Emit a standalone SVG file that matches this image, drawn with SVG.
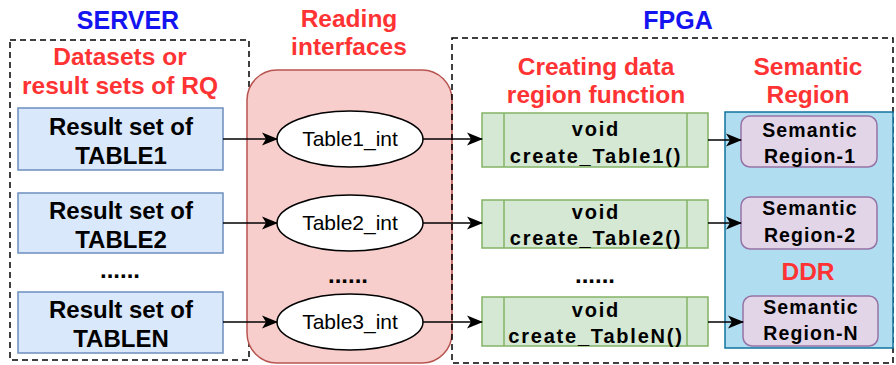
<svg xmlns="http://www.w3.org/2000/svg" width="896" height="365" viewBox="0 0 896 365">
<style>
text{font-family:"Liberation Sans",Arial,sans-serif;font-weight:bold;text-anchor:middle}
.title{font-size:25px;fill:#1414F0}
.red{font-size:24.5px;fill:#FF3333}
.res{font-size:24px;fill:#000}
.int{font-size:21px;font-weight:normal;fill:#000}
.fn{font-size:20px;fill:#000;letter-spacing:1.8px}
.sem{font-size:19.5px;fill:#000;letter-spacing:1.1px}
.dots{font-size:24px;fill:#000}
.dash{fill:none;stroke:#000;stroke-width:1.5;stroke-dasharray:6,4}
.rbox{fill:#DAE8FC;stroke:#6C8EBF;stroke-width:1.5}
.ell{fill:#fff;stroke:#000;stroke-width:1.5}
.gbox{fill:#D5E8D4;stroke:#82B366;stroke-width:1.5}
.pbox{fill:#E1D5E7;stroke:#9673A6;stroke-width:1.5}
.conn{stroke:#000;stroke-width:1.5;fill:none;marker-end:url(#arr)}
</style>
<defs>
<marker id="arr" markerUnits="userSpaceOnUse" markerWidth="18" markerHeight="14" refX="15" refY="7" orient="auto">
<path d="M0,0.5 L16,7 L0,13.5 L4,7 z" fill="#000"/>
</marker>
</defs>
<rect width="896" height="365" fill="#fff"/>

<g id="server">
<rect class="dash" x="10" y="40" width="239" height="320"/>
<text class="title" x="128" y="29">SERVER</text>
<text class="red" x="120" y="65">Datasets or</text>
<text class="red" x="120" y="94">result sets of RQ</text>
<text class="dots" x="120" y="278">......</text>
</g>

<g id="table1">
<rect class="rbox" x="18" y="108" width="205" height="62"/>
<text class="res" x="121" y="135">Result set of</text>
<text class="res" x="121" y="164">TABLE1</text>
</g>
<g id="table2">
<rect class="rbox" x="18" y="193" width="205" height="60"/>
<text class="res" x="121" y="219">Result set of</text>
<text class="res" x="121" y="248">TABLE2</text>
</g>
<g id="tableN">
<rect class="rbox" x="18" y="292" width="205" height="61"/>
<text class="res" x="121" y="318">Result set of</text>
<text class="res" x="121" y="347">TABLEN</text>
</g>

<g id="reading">
<rect x="247" y="70" width="205" height="293" rx="30" ry="30" fill="#F8CECC" stroke="#B85450" stroke-width="1.5"/>
<text class="red" x="349" y="27">Reading</text>
<text class="red" x="349" y="55">interfaces</text>
<text class="dots" x="348" y="283">......</text>
</g>
<g id="int1">
<ellipse class="ell" cx="350" cy="139" rx="73" ry="28"/>
<text class="int" x="350" y="146">Table1_int</text>
</g>
<g id="int2">
<ellipse class="ell" cx="350" cy="223" rx="73" ry="28"/>
<text class="int" x="350" y="230">Table2_int</text>
</g>
<g id="int3">
<ellipse class="ell" cx="350" cy="322" rx="73" ry="28"/>
<text class="int" x="350" y="329">Table3_int</text>
</g>

<g id="fpga">
<rect class="dash" x="452" y="38" width="441" height="325"/>
<text class="title" x="678" y="29">FPGA</text>
<text class="red" x="596" y="75">Creating data</text>
<text class="red" x="596" y="103">region function</text>
<text class="red" x="808" y="75">Semantic</text>
<text class="red" x="808" y="103">Region</text>
<text class="dots" x="595" y="283">......</text>
</g>

<g id="create1">
<rect class="gbox" x="482" y="113" width="226" height="54"/>
<line x1="504" y1="113" x2="504" y2="167" stroke="#82B366" stroke-width="1.5"/>
<line x1="687" y1="113" x2="687" y2="167" stroke="#82B366" stroke-width="1.5"/>
<text class="fn" x="596" y="136">void</text>
<text class="fn" x="596" y="163">create_Table1()</text>
</g>
<g id="create2">
<rect class="gbox" x="482" y="200" width="226" height="48"/>
<line x1="504" y1="200" x2="504" y2="248" stroke="#82B366" stroke-width="1.5"/>
<line x1="687" y1="200" x2="687" y2="248" stroke="#82B366" stroke-width="1.5"/>
<text class="fn" x="596" y="219">void</text>
<text class="fn" x="596" y="245">create_Table2()</text>
</g>
<g id="createN">
<rect class="gbox" x="482" y="297" width="226" height="49"/>
<line x1="504" y1="297" x2="504" y2="346" stroke="#82B366" stroke-width="1.5"/>
<line x1="687" y1="297" x2="687" y2="346" stroke="#82B366" stroke-width="1.5"/>
<text class="fn" x="596" y="317">void</text>
<text class="fn" x="596" y="343">create_TableN()</text>
</g>

<g id="ddr">
<rect x="725" y="112" width="168" height="236" fill="#B1DDF0" stroke="#10739E" stroke-width="1.5"/>
<text class="red" x="808" y="280">DDR</text>
</g>
<g id="sem1">
<rect class="pbox" x="741" y="116" width="136" height="51" rx="9" ry="9"/>
<text class="sem" x="810" y="137">Semantic</text>
<text class="sem" x="810" y="163">Region-1</text>
</g>
<g id="sem2">
<rect class="pbox" x="741" y="197" width="136" height="52" rx="9" ry="9"/>
<text class="sem" x="810" y="215">Semantic</text>
<text class="sem" x="810" y="242">Region-2</text>
</g>
<g id="semN">
<rect class="pbox" x="743" y="296" width="135" height="50" rx="9" ry="9"/>
<text class="sem" x="811" y="314">Semantic</text>
<text class="sem" x="811" y="340">Region-N</text>
</g>

<g id="connectors">
<line class="conn" x1="223" y1="139" x2="277" y2="139"/>
<line class="conn" x1="223" y1="223" x2="277" y2="223"/>
<line class="conn" x1="223" y1="322" x2="277" y2="322"/>
<line class="conn" x1="423" y1="139" x2="482" y2="139"/>
<line class="conn" x1="423" y1="223" x2="482" y2="223"/>
<line class="conn" x1="423" y1="322" x2="482" y2="322"/>
<line class="conn" x1="708" y1="140" x2="741" y2="140"/>
<line class="conn" x1="708" y1="223" x2="741" y2="223"/>
<line class="conn" x1="708" y1="322" x2="743" y2="322"/>
</g>
</svg>
